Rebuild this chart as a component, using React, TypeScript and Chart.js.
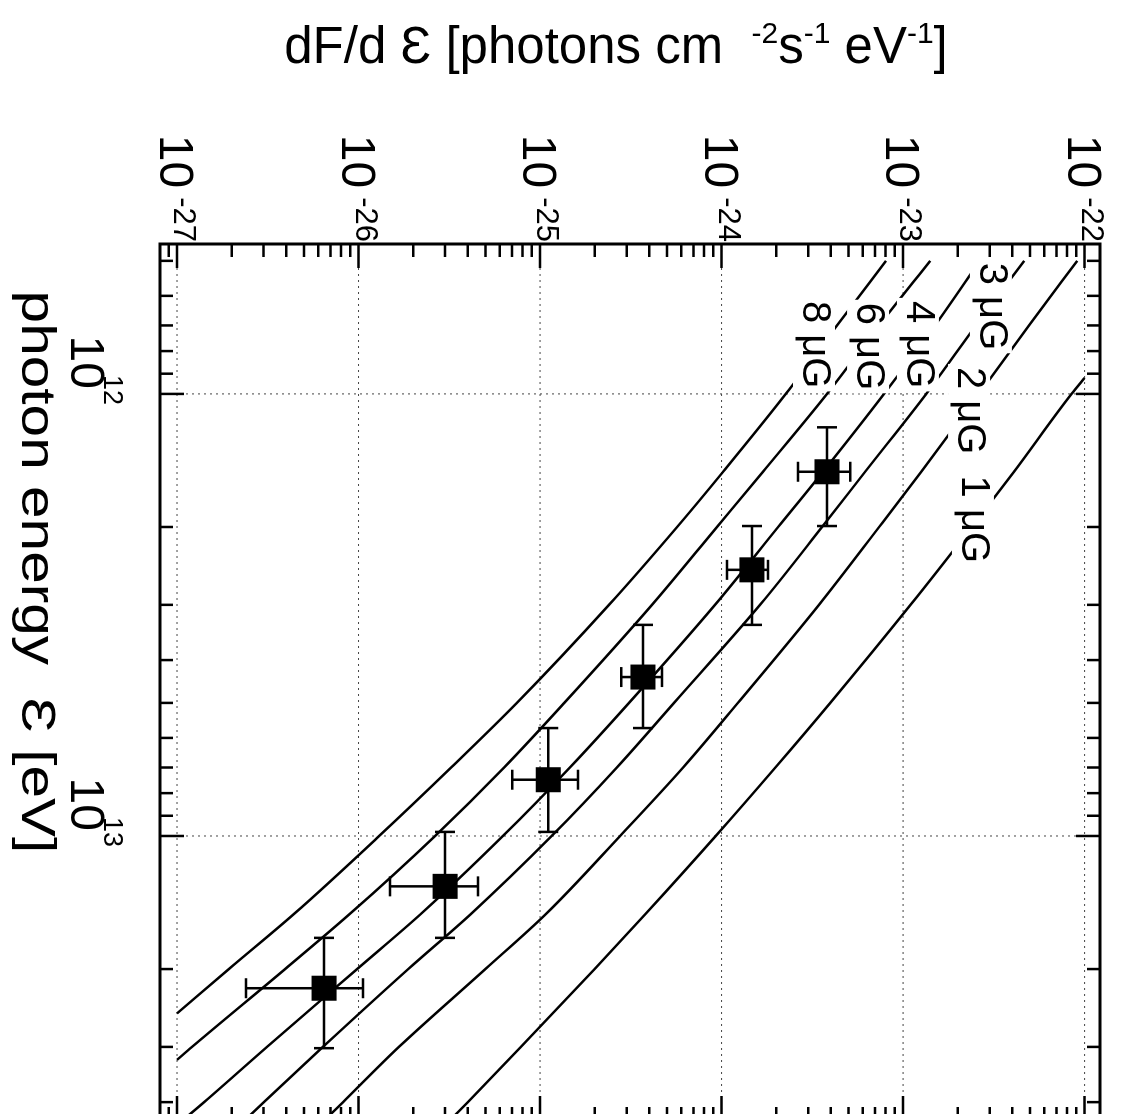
import React, { useEffect, useRef } from 'react';
import { Chart, registerables } from 'chart.js';

Chart.register(...registerables);

const FONT = '"Liberation Sans", Arial, Helvetica, sans-serif';

// ---------- axis ranges ----------
const energyMin = 4.58e11;
const energyMax = 4.39e13;
const fluxMin = 8.06e-28;
const fluxMax = 1.216e-22;

// ---------- tick labels ----------
const energyDecades = [1e12, 1e13];
const energyExponents = ['12', '13'];
const fluxDecades = [1e-27, 1e-26, 1e-25, 1e-24, 1e-23, 1e-22];
const fluxExponents = ['-27', '-26', '-25', '-24', '-23', '-22'];
const minorMantissa = [2, 3, 4, 5, 6, 7, 8, 9];

// ---------- model curves (B field) ----------
const curveLabels = ['1 μG', '2 μG', '3 μG', '4 μG', '6 μG', '8 μG'];

const curveE_1uG = [9.2e11, 1e12, 1.5e12, 2e12, 3e12, 5e12, 7e12, 1e13, 1.5e13, 2e13, 3e13, 4e13, 4.39e13];
const curveF_1uG = [1.0e-22, 8.47e-23, 4.08e-23, 2.39e-23, 1.1e-23, 3.97e-24, 1.98e-24, 9.29e-25, 3.82e-25, 2.0e-25, 7.85e-26, 4.0e-26, 3.2e-26];

const curveE_2uG = [5e11, 7e11, 1e12, 1.5e12, 2e12, 3e12, 5e12, 7e12, 1e13, 1.5e13, 2e13, 3e13, 4e13, 4.39e13];
const curveF_2uG = [9.1e-23, 4.94e-23, 2.62e-23, 1.26e-23, 7.38e-24, 3.44e-24, 1.23e-24, 6.14e-25, 2.76e-25, 1.08e-25, 5.0e-26, 1.67e-26, 8.22e-27, 6.53e-27];

const curveE_3uG = [5e11, 7e11, 1e12, 1.5e12, 2e12, 3e12, 5e12, 7e12, 1e13, 1.5e13, 2e13, 3e13, 4e13, 4.39e13];
const curveF_3uG = [4.65e-23, 2.52e-23, 1.34e-23, 6.18e-24, 3.58e-24, 1.63e-24, 5.47e-25, 2.65e-25, 1.16e-25, 4.17e-26, 1.88e-26, 6.37e-27, 3.01e-27, 2.37e-27];

const curveE_4uG = [5e11, 7e11, 1e12, 1.5e12, 2e12, 3e12, 5e12, 7e12, 1e13, 1.5e13, 2e13, 3e13, 4e13, 4.39e13];
const curveF_4uG = [2.65e-23, 1.5e-23, 7.85e-24, 3.62e-24, 2.05e-24, 9.2e-25, 3.09e-25, 1.46e-25, 6.25e-26, 2.21e-26, 9.82e-27, 3.13e-27, 1.41e-27, 1.08e-27];

const curveE_6uG = [5e11, 7e11, 1e12, 1.5e12, 2e12, 3e12, 5e12, 7e12, 1e13, 1.5e13, 2e13, 3e13, 3.21e13];
const curveF_6uG = [1.41e-23, 7.38e-24, 3.81e-24, 1.69e-24, 9.43e-25, 4.14e-25, 1.36e-25, 6.34e-26, 2.64e-26, 8.97e-27, 3.94e-27, 1.21e-27, 1.0e-27];

const curveE_8uG = [5e11, 7e11, 1e12, 1.5e12, 2e12, 3e12, 5e12, 7e12, 1e13, 1.5e13, 2e13, 2.52e13];
const curveF_8uG = [8.05e-24, 4.33e-24, 2.26e-24, 1.02e-24, 5.69e-25, 2.4e-25, 7.46e-26, 3.24e-26, 1.3e-26, 4.42e-27, 1.93e-27, 1.0e-27];

// label anchors (start of text, baseline) in data units
const labelE = [1.53e12, 8.69e11, 5.05e11, 6.16e11, 6.22e11, 6.16e11];
const labelF = [2.11e-23, 2.01e-23, 2.65e-23, 1.05e-23, 5.58e-24, 2.81e-24];

// ---------- measured points ----------
const obsE = [1.5e12, 2.5e12, 4.37e12, 7.46e12, 1.3e13, 2.21e13];
const obsELo = [1.19e12, 1.99e12, 3.33e12, 5.7e12, 9.79e12, 1.7e13];
const obsEHi = [1.99e12, 3.33e12, 5.7e12, 9.79e12, 1.7e13, 3.02e13];
const obsF = [3.81e-24, 1.47e-24, 3.69e-25, 1.11e-25, 3.0e-26, 6.46e-27];
const obsFLo = [2.64e-24, 1.07e-24, 2.8e-25, 7.02e-26, 1.49e-26, 2.4e-27];
const obsFHi = [5.11e-24, 1.8e-24, 4.7e-25, 1.62e-25, 4.55e-26, 1.06e-26];

// ---------- canvas geometry (drawn unrotated, then turned 90° clockwise) ----------
const W = 1160;
const H = 1125;

type Run = { t: string; s: number; r?: number };

function runsWidth(ctx: CanvasRenderingContext2D, runs: Run[]) {
  let w = 0;
  for (const r of runs) {
    ctx.font = `${r.s}px ${FONT}`;
    w += ctx.measureText(r.t).width;
  }
  return w;
}

function drawRuns(ctx: CanvasRenderingContext2D, runs: Run[], x: number, y: number) {
  let cx = x;
  for (const r of runs) {
    ctx.font = `${r.s}px ${FONT}`;
    ctx.fillText(r.t, cx, y - (r.r || 0));
    cx += ctx.measureText(r.t).width;
  }
}

const yTitleRuns: Run[] = [
  { t: 'dF/d ', s: 51 },
  { t: 'Ɛ', s: 51 },
  { t: ' [photons cm  ', s: 51 },
  { t: '-2', s: 30, r: 20 },
  { t: 's', s: 51 },
  { t: '-1', s: 30, r: 20 },
  { t: ' eV', s: 51 },
  { t: '-1', s: 30, r: 20 },
  { t: ']', s: 51 },
];
const xTitleRuns: Run[] = [{ t: 'photon energy  Ɛ [eV]', s: 48 }];

export default function App() {
  const ref = useRef<HTMLCanvasElement>(null);

  useEffect(() => {
    const canvas = ref.current!;

    const energyMinor: number[] = [];
    for (const d of [1e11, 1e12, 1e13]) for (const m of minorMantissa) energyMinor.push(m * d);
    const fluxMinor: number[] = [];
    for (const d of [1e-28, 1e-27, 1e-26, 1e-25, 1e-24, 1e-23]) for (const m of minorMantissa) fluxMinor.push(m * d);

    const overlay = {
      id: 'overlay',
      beforeDatasetsDraw(chart: any) {
        const ctx: CanvasRenderingContext2D = chart.ctx;
        const ca = chart.chartArea;
        const xs = chart.scales.x;
        const ys = chart.scales.y;
        ctx.save();
        // dotted grid
        ctx.strokeStyle = '#444';
        ctx.lineWidth = 1;
        ctx.setLineDash([2, 4]);
        for (const v of energyDecades) {
          const a = xs.getPixelForValue(v);
          ctx.beginPath();
          ctx.moveTo(a, ca.top);
          ctx.lineTo(a, ca.bottom);
          ctx.stroke();
        }
        for (const v of fluxDecades) {
          const b = ys.getPixelForValue(v);
          ctx.beginPath();
          ctx.moveTo(ca.left, b);
          ctx.lineTo(ca.right, b);
          ctx.stroke();
        }
        ctx.setLineDash([]);
        // error bars
        ctx.strokeStyle = '#000';
        ctx.lineWidth = 2.5;
        const cap = 10;
        for (let i = 0; i < obsE.length; i++) {
          const a = xs.getPixelForValue(obsE[i]);
          const b = ys.getPixelForValue(obsF[i]);
          const a0 = xs.getPixelForValue(obsELo[i]);
          const a1 = xs.getPixelForValue(obsEHi[i]);
          const b0 = ys.getPixelForValue(obsFLo[i]);
          const b1 = ys.getPixelForValue(obsFHi[i]);
          ctx.beginPath();
          ctx.moveTo(a0, b);
          ctx.lineTo(a1, b);
          ctx.moveTo(a0, b - cap);
          ctx.lineTo(a0, b + cap);
          ctx.moveTo(a1, b - cap);
          ctx.lineTo(a1, b + cap);
          ctx.moveTo(a, b0);
          ctx.lineTo(a, b1);
          ctx.moveTo(a - cap, b0);
          ctx.lineTo(a + cap, b0);
          ctx.moveTo(a - cap, b1);
          ctx.lineTo(a + cap, b1);
          ctx.stroke();
        }
        ctx.restore();
      },
      afterDatasetsDraw(chart: any) {
        const ctx: CanvasRenderingContext2D = chart.ctx;
        const ca = chart.chartArea;
        const xs = chart.scales.x;
        const ys = chart.scales.y;
        ctx.save();
        ctx.fillStyle = '#000';
        ctx.textBaseline = 'alphabetic';
        ctx.textAlign = 'left';

        // curve labels with white background
        ctx.font = `40px ${FONT}`;
        for (let i = 0; i < curveLabels.length; i++) {
          const a0 = xs.getPixelForValue(labelE[i]);
          const b0 = ys.getPixelForValue(labelF[i]);
          const w = ctx.measureText(curveLabels[i]).width;
          ctx.fillStyle = '#fff';
          ctx.fillRect(a0 - 3, b0 - 32, w + 6, 42);
          ctx.fillStyle = '#000';
          ctx.fillText(curveLabels[i], a0, b0);
        }

        // frame
        ctx.strokeStyle = '#000';
        ctx.lineWidth = 3;
        ctx.strokeRect(ca.left, ca.top, ca.right - ca.left, ca.bottom - ca.top);

        // ticks (inward)
        ctx.lineWidth = 2.5;
        const major = 24;
        const minor = 13;
        const energyTick = (v: number, len: number) => {
          const a = xs.getPixelForValue(v);
          if (a < ca.left || a > ca.right) return;
          ctx.beginPath();
          ctx.moveTo(a, ca.bottom);
          ctx.lineTo(a, ca.bottom - len);
          ctx.moveTo(a, ca.top);
          ctx.lineTo(a, ca.top + len);
          ctx.stroke();
        };
        const fluxTick = (v: number, len: number) => {
          const b = ys.getPixelForValue(v);
          if (b < ca.top || b > ca.bottom) return;
          ctx.beginPath();
          ctx.moveTo(ca.left, b);
          ctx.lineTo(ca.left + len, b);
          ctx.moveTo(ca.right, b);
          ctx.lineTo(ca.right - len, b);
          ctx.stroke();
        };
        energyDecades.forEach((v) => energyTick(v, major));
        energyMinor.forEach((v) => energyTick(v, minor));
        fluxDecades.forEach((v) => fluxTick(v, major));
        fluxMinor.forEach((v) => fluxTick(v, minor));

        // flux tick labels (left of plot)
        for (let i = 0; i < fluxDecades.length; i++) {
          const b = ys.getPixelForValue(fluxDecades[i]);
          ctx.font = `48px ${FONT}`;
          const w10 = ctx.measureText('10').width;
          ctx.font = `31px ${FONT}`;
          const we = ctx.measureText(fluxExponents[i]).width;
          const xEnd = ca.left - 2;
          const xExp = xEnd - we;
          const x10 = xExp - 9 - w10;
          ctx.font = `48px ${FONT}`;
          ctx.fillText('10', x10, b + 17);
          ctx.font = `31px ${FONT}`;
          ctx.fillText(fluxExponents[i], xExp, b + 3);
        }

        // energy tick labels (below plot)
        for (let i = 0; i < energyDecades.length; i++) {
          const a = xs.getPixelForValue(energyDecades[i]);
          ctx.font = `48px ${FONT}`;
          const w10 = ctx.measureText('10').width;
          ctx.fillText('10', a - 5 - w10, ca.bottom + 89);
          ctx.font = `27px ${FONT}`;
          ctx.fillText(energyExponents[i], a - 19, ca.bottom + 56);
        }

        // y title (rotated)
        const yw = runsWidth(ctx, yTitleRuns);
        ctx.save();
        ctx.translate(63, 1125 - 616);
        ctx.rotate(-Math.PI / 2);
        drawRuns(ctx, yTitleRuns, -yw / 2, 0);
        ctx.restore();

        // x title (horizontally widened as in the scan)
        const xw = runsWidth(ctx, xTitleRuns);
        ctx.save();
        ctx.translate(572, ca.bottom + 138);
        ctx.scale(1.22, 1);
        drawRuns(ctx, xTitleRuns, -xw / 2, 0);
        ctx.restore();

        ctx.restore();
      },
    };

    const curveSets = [
      [curveE_1uG, curveF_1uG],
      [curveE_2uG, curveF_2uG],
      [curveE_3uG, curveF_3uG],
      [curveE_4uG, curveF_4uG],
      [curveE_6uG, curveF_6uG],
      [curveE_8uG, curveF_8uG],
    ];

    const datasets: any[] = curveSets.map(([es, fs], k) => ({
      label: curveLabels[k],
      data: es.map((e, i) => ({ x: e, y: fs[i] })),
      showLine: true,
      borderColor: '#000',
      borderWidth: 2.5,
      pointRadius: 0,
      fill: false,
      cubicInterpolationMode: 'monotone',
    }));
    datasets.push({
      label: 'data',
      data: obsE.map((e, i) => ({ x: e, y: obsF[i] })),
      pointStyle: 'rect',
      pointRadius: 17.7,
      pointBorderWidth: 0,
      backgroundColor: '#000',
      borderColor: '#000',
    });

    const chart = new Chart(canvas, {
      type: 'scatter',
      data: { datasets },
      options: {
        responsive: false,
        animation: false,
        devicePixelRatio: 1,
        events: [],
        layout: { padding: { left: 244, right: W - 1120, top: 25, bottom: H - 965 } },
        plugins: { legend: { display: false }, tooltip: { enabled: false } },
        scales: {
          x: { type: 'logarithmic', min: energyMin, max: energyMax, display: false },
          y: { type: 'logarithmic', min: fluxMin, max: fluxMax, display: false },
        },
      } as any,
      plugins: [overlay],
    });
    return () => chart.destroy();
  }, []);

  return (
    <div
      style={{
        position: 'fixed',
        left: 0,
        top: 0,
        width: 1125,
        height: 1114,
        overflow: 'hidden',
        background: '#fff',
      }}
    >
      <div
        style={{
          position: 'absolute',
          left: 0,
          top: 0,
          width: W,
          height: H,
          transformOrigin: '0 0',
          transform: 'translateX(1125px) rotate(90deg)',
        }}
      >
        <canvas ref={ref} width={W} height={H} style={{ width: W, height: H, display: 'block' }} />
      </div>
    </div>
  );
}
